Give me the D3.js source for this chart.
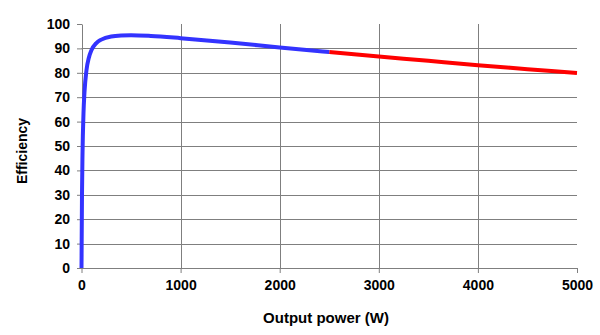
<!DOCTYPE html>
<html>
<head>
<meta charset="utf-8">
<script src="https://cdn.jsdelivr.net/npm/d3@7"></script>
<style>
  html, body { margin: 0; padding: 0; background: #fff; }
  svg { display: block; }
  text { font-family: "Liberation Sans", Arial, sans-serif; font-weight: bold; fill: #000; }
</style>
</head>
<body>
<svg id="chart" width="600" height="335"></svg>
<script>
// Data
const bluePower = [0, 5, 10, 20, 30, 50, 75, 100, 150, 200, 300, 400, 500, 700, 1000, 1500, 2000, 2500];
const blueEff   = [0, 30.1, 46.3, 63.3, 72.0, 81.0, 86.3, 89.2, 92.2, 93.6, 94.9, 95.3, 95.4, 95.1, 94.2, 92.4, 90.4, 88.5];
const redPower  = [2500, 3000, 3500, 4000, 4500, 5000];
const redEff    = [88.5, 86.7, 84.9, 83.1, 81.5, 79.9];
const xTicks = [0, 1000, 2000, 3000, 4000, 5000];
const yTicks = [0, 10, 20, 30, 40, 50, 60, 70, 80, 90, 100];
const xTitle = "Output power (W)";
const yTitle = "Efficiency";

const svg = d3.select("#chart");
const mLeft = 81.5, mRight = 577, mTop = 24, mBottom = 268;
const x = d3.scaleLinear().domain([0, 5000]).range([mLeft, mRight]);
const y = d3.scaleLinear().domain([0, 100]).range([mBottom, mTop]);
const grid = "#7f7f7f";

// horizontal gridlines (not at 100)
svg.append("g").selectAll("line")
  .data(yTicks.filter(d => d > 0 && d < 100))
  .join("line")
  .attr("x1", mLeft).attr("x2", mRight)
  .attr("y1", d => Math.round(y(d)) + 0.5).attr("y2", d => Math.round(y(d)) + 0.5)
  .attr("stroke", grid).attr("stroke-width", 1);

// vertical gridlines (not at 0 / 5000)
svg.append("g").selectAll("line")
  .data(xTicks.filter(d => d > 0 && d < 5000))
  .join("line")
  .attr("x1", d => Math.round(x(d)) + 0.5).attr("x2", d => Math.round(x(d)) + 0.5)
  .attr("y1", mTop).attr("y2", mBottom)
  .attr("stroke", grid).attr("stroke-width", 1);

// y axis
const yAxis = d3.axisLeft(y).tickValues(yTicks).tickFormat(d3.format("d"))
  .tickSize(5).tickPadding(7).tickSizeOuter(0);
const gy = svg.append("g").attr("transform", `translate(${Math.round(mLeft)},0)`).call(yAxis);
gy.select(".domain").attr("stroke", grid);
gy.selectAll(".tick line").attr("stroke", grid);
gy.selectAll(".tick text").style("font-size", "14px").attr("fill", "#000");

// x axis
const xAxis = d3.axisBottom(x).tickValues(xTicks).tickFormat(d3.format("d"))
  .tickSize(5).tickPadding(7).tickSizeOuter(0);
const gx = svg.append("g").attr("transform", `translate(0,${mBottom})`).call(xAxis);
gx.select(".domain").attr("stroke", grid);
gx.selectAll(".tick line").attr("stroke", grid);
gx.selectAll(".tick text").style("font-size", "14px").attr("fill", "#000");

// lines
const line = d3.line().x(d => x(d[0])).y(d => y(d[1])).curve(d3.curveMonotoneX);
svg.append("path")
  .datum(redPower.map((p, i) => [p, redEff[i]]))
  .attr("d", line).attr("fill", "none").attr("stroke", "#ff0000").attr("stroke-width", 4);
svg.append("path")
  .datum(bluePower.map((p, i) => [p, blueEff[i]]))
  .attr("d", line).attr("fill", "none").attr("stroke", "#3333ff").attr("stroke-width", 4);

// titles
svg.append("text").attr("x", 326).attr("y", 323).attr("text-anchor", "middle")
  .style("font-size", "15px").text(xTitle);
svg.append("text").attr("transform", "translate(27,151) rotate(-90)").attr("text-anchor", "middle")
  .style("font-size", "14px").text(yTitle);
</script>
</body>
</html>
